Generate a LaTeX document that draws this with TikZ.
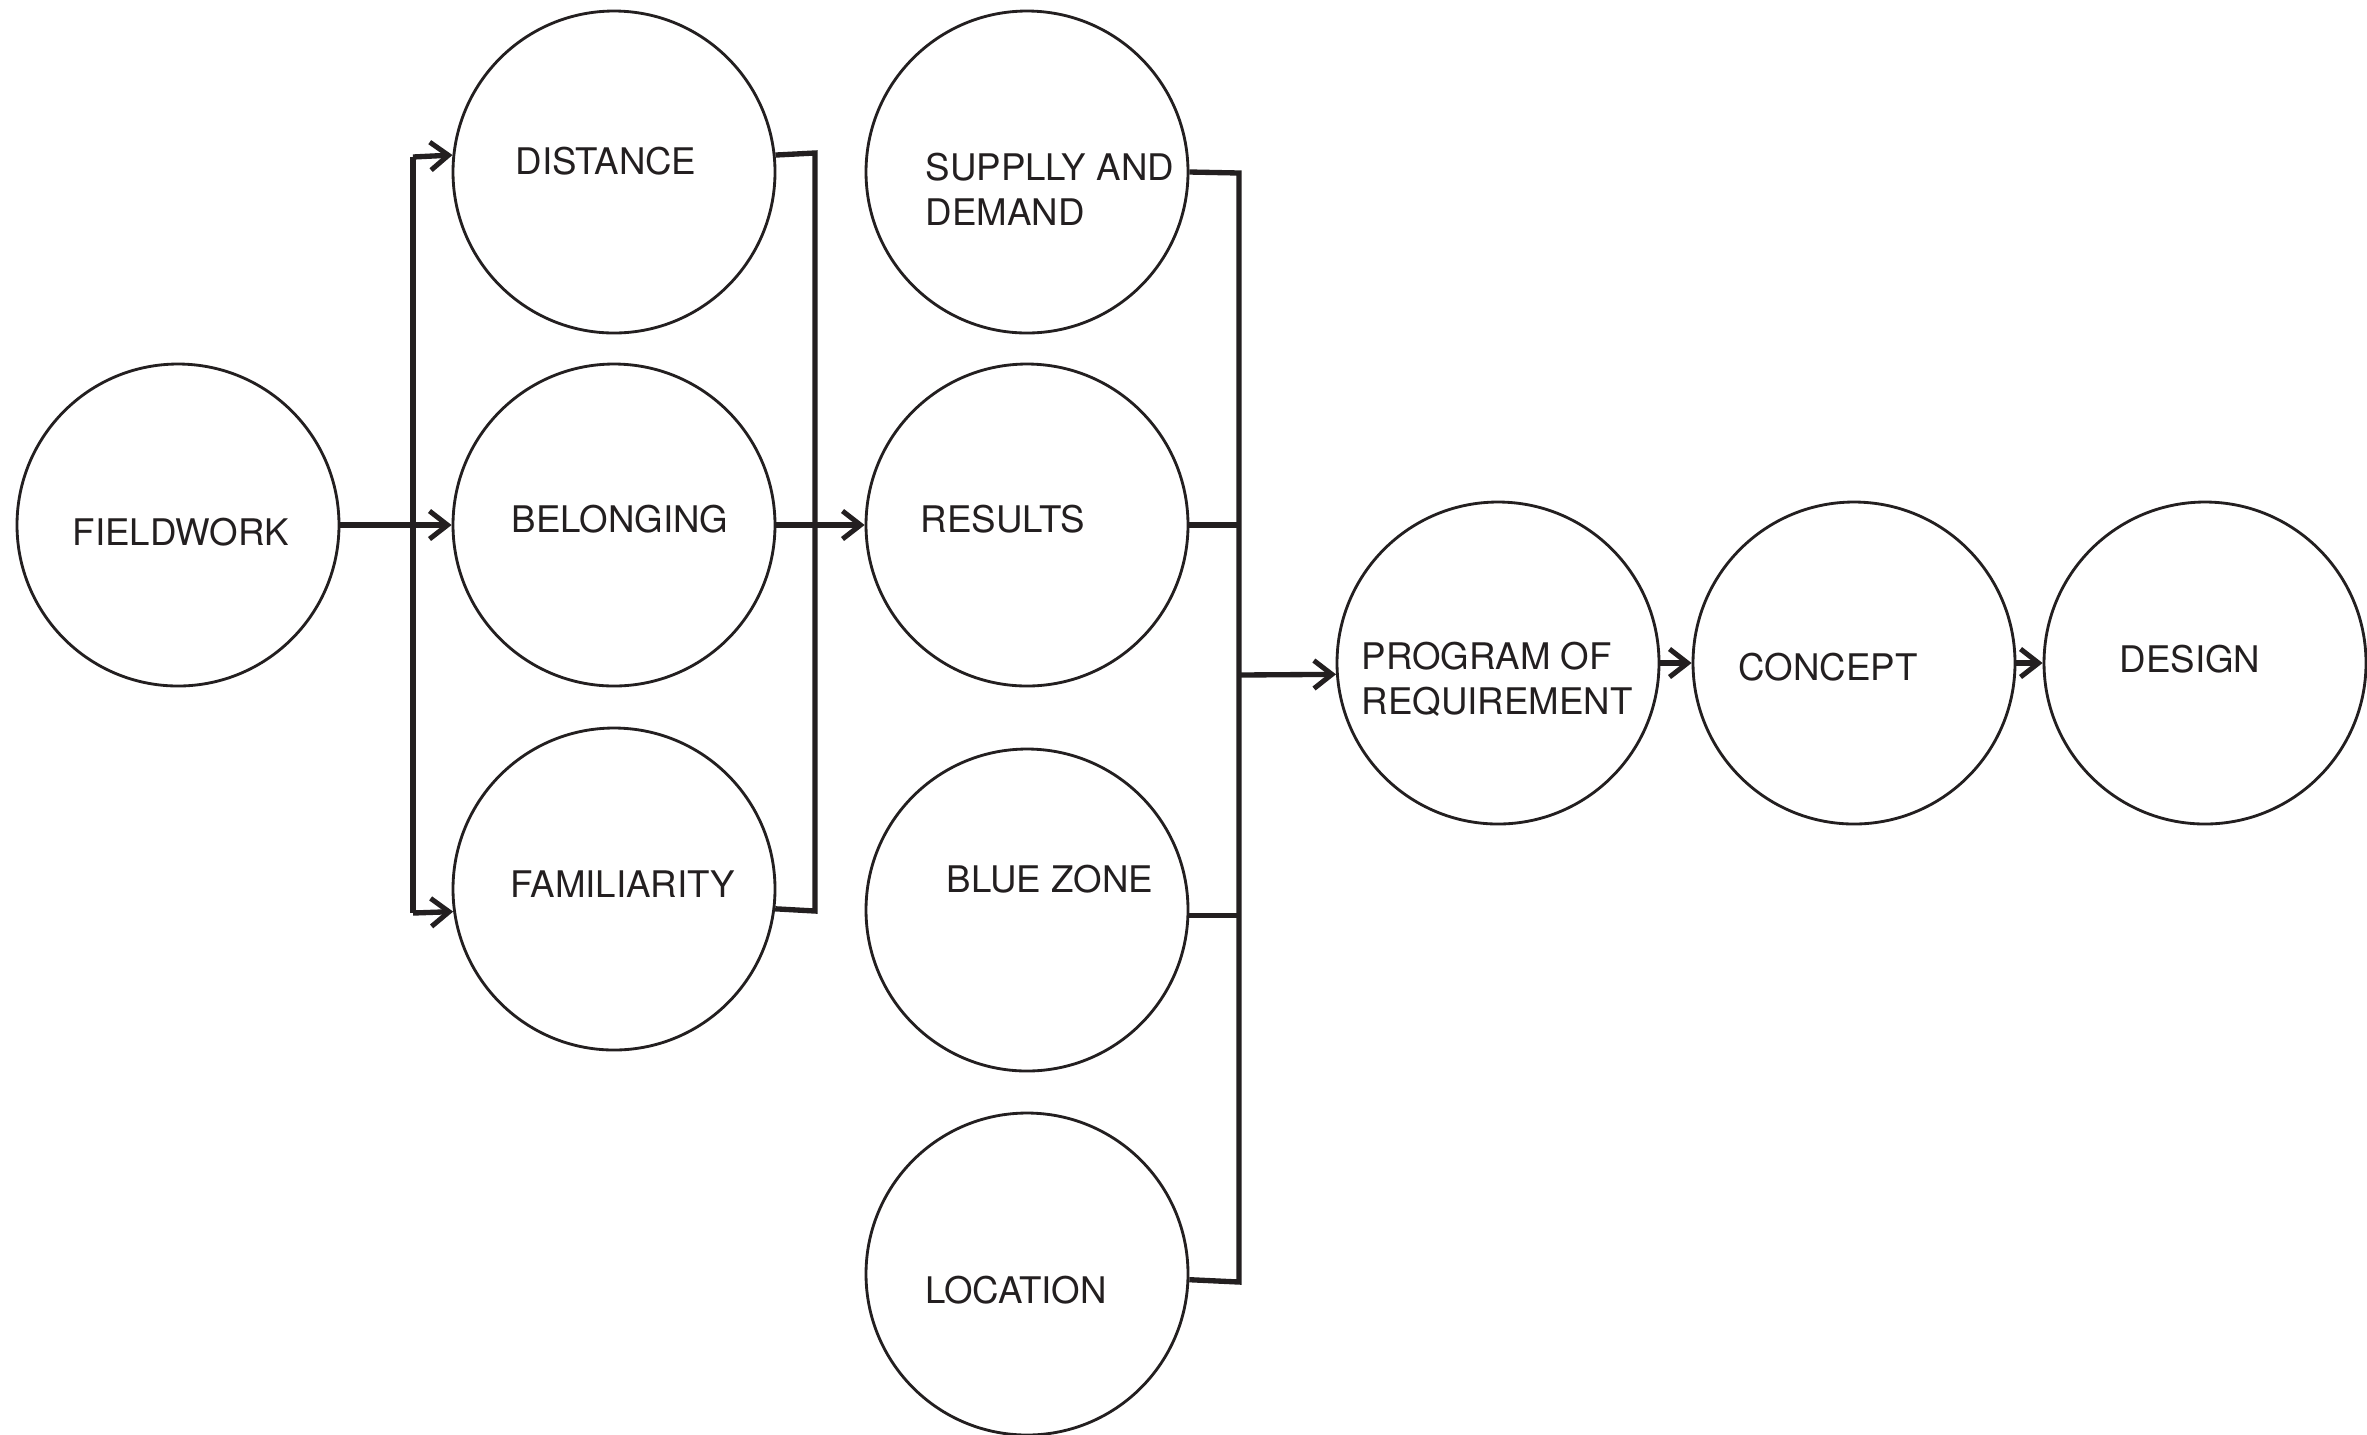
\documentclass[tikz,border=0pt]{standalone}
\usepackage{fontspec}
\setmainfont{TeX Gyre Heros}
\usetikzlibrary{arrows.meta}
\definecolor{ink}{HTML}{231F20}
\begin{document}
\begin{tikzpicture}[x=0.3pt,y=-0.3pt,
  bubble/.style={circle,draw=ink,line width=0.85pt,minimum size=96.6pt,inner sep=0pt},
  lbl/.style={font=\fontsize{11}{13.5}\selectfont,text=ink,inner sep=0pt},
  conn/.style={draw=ink,line width=1.6pt},
  arr/.style={conn,-{Straight Barb[length=5.4pt,width=8.4pt,line width=1.5pt]}}]
\useasboundingbox (0,0) rectangle (2367,1434);
\fill[white] (0,0) rectangle (2367,1434);

% circles
\node[bubble] (fw)   at (178,525) {};
\node[bubble] (dist) at (614,172) {};
\node[bubble] (bel)  at (614,525) {};
\node[bubble] (fam)  at (614,889) {};
\node[bubble] (sup)  at (1027,172) {};
\node[bubble] (res)  at (1027,525) {};
\node[bubble] (blue) at (1027,910) {};
\node[bubble] (loc)  at (1027,1274) {};
\node[bubble] (prog) at (1498,663) {};
\node[bubble] (conc) at (1854,663) {};
\node[bubble] (des)  at (2205,663) {};

% labels
\node[lbl,anchor=base] (tfw)   at (181,545) {FIELDWORK};
\node[lbl,anchor=base] (tdist) at (606,174) {DISTANCE};
\node[lbl,anchor=base] (tbel)  at (620,532) {BELONGING};
\node[lbl,anchor=base] (tfam)  at (623,897) {FAMILIARITY};
\node[lbl,anchor=base west,align=left] (tsup) at (925,225) {SUPPLLY AND\\DEMAND};
\node[lbl,anchor=base] (tres)  at (1003,532) {RESULTS};
\node[lbl,anchor=base] (tblue) at (1050,892) {BLUE ZONE};
\node[lbl,anchor=base] (tloc)  at (1016,1303) {LOCATION};
\node[lbl,anchor=base west,align=left] (tprog) at (1361,714) {PROGRAM OF\\REQUIREMENT};
\node[lbl,anchor=base] (tconc) at (1828,680) {CONCEPT};
\node[lbl,anchor=base] (tdes)  at (2190,672) {DESIGN};

% bus coordinates
\coordinate (lbT) at (413,157);
\coordinate (lbB) at (413,913);
\coordinate (rbT) at (815,153);
\coordinate (rbB) at (815,911);
\coordinate (cbT) at (1239,173);
\coordinate (cbB) at (1239,1282);
\coordinate (cbM) at (1239,675);

% fieldwork -> column 2
\draw[conn] (lbT) -- (lbB);
\draw[arr] (fw.east) -- (bel.west);
\draw[arr] (lbT) -- (dist.174.6);
\draw[arr] (lbB) -- (fam.188.6);

% column 2 -> results
\draw[conn] (dist.6.8) -- (rbT) -- (rbB) -- (fam.-7.85);
\draw[arr] (bel.east) -- (res.west);

% column 3 -> program
\draw[conn] (sup.east) -- (cbT) -- (cbB) -- (loc.-2.85);
\draw[conn] (res.east) -- (res.east -| cbT);
\draw[conn] (blue.-2.85) -- (blue.-2.85 -| cbT);
\draw[arr] (cbM) -- (prog.184.3);

% chain
\draw[arr] (prog.east) -- (conc.west);
\draw[arr] (conc.east) -- (des.west);
\end{tikzpicture}
\end{document}
